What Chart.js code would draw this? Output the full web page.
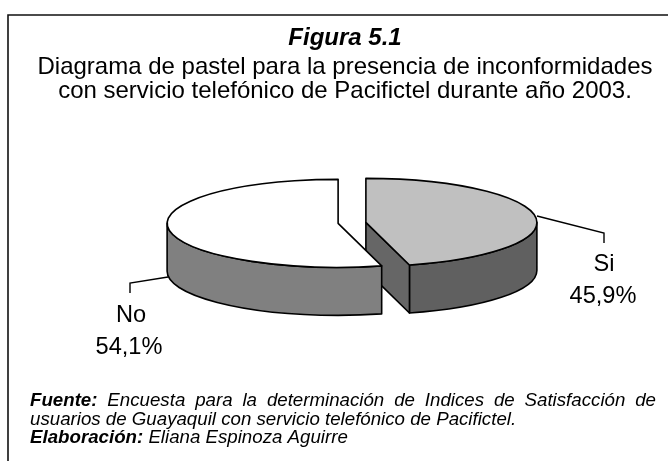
<!DOCTYPE html>
<html><head><meta charset="utf-8">
<style>html,body{margin:0;padding:0;background:#fff}canvas{display:block}</style>
<script src="https://cdn.jsdelivr.net/npm/chart.js@4"></script>
</head><body><canvas id="c" width="668" height="461"></canvas>
<script>
const categories = ['Si', 'No'];
const percentages = [45.9, 54.1];
const percentLabels = ['45,9%', '54,1%'];
const topColors = ['#c0c0c0', '#ffffff'];
const wallColors = ['#606060', '#808080'];
const faceColors = ['#666666', '#808080'];
const titleText = 'Figura 5.1';
const subtitleLines = ['Diagrama de pastel para la presencia de inconformidades', 'con servicio telefónico de Pacifictel durante año 2003.'];
const sourceLines = [
  [['Fuente:', true], ['Encuesta para la determinación de Indices de Satisfacción de', false]],
  [['usuarios de Guayaquil con servicio telefónico de Pacifictel.', false]],
  [['Elaboración:', true], ['Eliana Espinoza Aguirre', false]]
];
const FONT = '"Liberation Sans", Arial, sans-serif';
const K = 44 / 171, DEPTH = 48, LW = 1.6, EXPLODE = 14, PIE_SHIFT = 7;

function geom(a) {
  const p = a.getProps(['x', 'y', 'startAngle', 'endAngle', 'outerRadius'], true);
  const mid = (p.startAngle + p.endAngle) / 2;
  return { mid, x: p.x, y: p.y, cx: p.x + PIE_SHIFT + Math.cos(mid) * EXPLODE, cy: p.y + Math.sin(mid) * EXPLODE * K, r: p.outerRadius, s: p.startAngle, e: p.endAngle };
}
class Pie3DController extends Chart.PieController {
  draw() {
    const c = this.chart.ctx, arcs = this._cachedMeta.data;
    c.save();
    c.strokeStyle = '#000'; c.lineWidth = LW; c.lineJoin = 'round';
    arcs.forEach((a, i) => {
      const g = geom(a), rx = g.r, ry = g.r * K;
      const a0 = Math.max(g.s, 0), a1 = Math.min(g.e, Math.PI);
      if (a1 > a0) {
        c.beginPath();
        c.ellipse(g.cx, g.cy, rx, ry, 0, a0, a1);
        c.ellipse(g.cx, g.cy + DEPTH, rx, ry, 0, a1, a0, true);
        c.closePath();
        c.fillStyle = wallColors[i]; c.fill(); c.stroke();
      }
      if (Math.sin(g.e + Math.PI / 2) > 1e-6) {
        const tx = g.cx + rx * Math.cos(g.e), ty = g.cy + ry * Math.sin(g.e);
        c.beginPath();
        c.moveTo(g.cx, g.cy); c.lineTo(tx, ty); c.lineTo(tx, ty + DEPTH); c.lineTo(g.cx, g.cy + DEPTH);
        c.closePath();
        c.fillStyle = faceColors[i]; c.fill(); c.stroke();
      }
    });
    arcs.forEach(a => {
      const g = geom(a);
      c.save();
      c.translate(g.cx, g.cy); c.scale(1, K); c.translate(-g.x, -g.y);
      a.draw(c);
      c.restore();
    });
    arcs.forEach(a => {
      const g = geom(a);
      c.beginPath();
      c.moveTo(g.cx, g.cy);
      c.ellipse(g.cx, g.cy, g.r, g.r * K, 0, g.s, g.e);
      c.closePath();
      c.stroke();
    });
    c.restore();
  }
}
Pie3DController.id = 'pie3d';
Pie3DController.defaults = Chart.PieController.defaults;
Pie3DController.overrides = Chart.PieController.overrides;
Chart.register(Pie3DController);

const decor = {
  id: 'decor',
  beforeDraw(chart) {
    const c = chart.ctx;
    c.save();
    c.fillStyle = '#fff'; c.fillRect(0, 0, 668, 461);
    c.strokeStyle = '#111'; c.lineWidth = 1.6;
    c.beginPath(); c.moveTo(8, 461); c.lineTo(8, 15); c.lineTo(668, 15); c.stroke();
    c.restore();
  },
  afterDraw(chart) {
    const c = chart.ctx;
    c.save();
    c.strokeStyle = '#000'; c.lineWidth = 1.4;
    c.beginPath(); c.moveTo(537, 216); c.lineTo(604, 233); c.lineTo(604, 243); c.stroke();
    c.beginPath(); c.moveTo(168, 277); c.lineTo(130, 283); c.lineTo(130, 293); c.stroke();
    c.fillStyle = '#000'; c.textAlign = 'center'; c.textBaseline = 'alphabetic';
    c.font = '23.6px ' + FONT;
    c.fillText(categories[1], 131, 322);
    c.fillText(percentLabels[1], 129, 354);
    c.fillText(categories[0], 604, 271);
    c.save();
    c.beginPath(); c.rect(0, 0, 637, 461); c.clip();
    c.fillText(percentLabels[0], 603, 303);
    c.restore();
    c.textAlign = 'left';
    const fs = 18.7, ys = [406, 425, 443], left = 30, right = 656;
    const fnt = b => (b ? 'italic bold ' : 'italic ') + fs + 'px ' + FONT;
    sourceLines.forEach((runs, li) => {
      const words = [];
      runs.forEach(([t, b]) => t.split(' ').forEach(w => words.push([w, b])));
      const widths = words.map(([w, b]) => { c.font = fnt(b); return c.measureText(w).width; });
      c.font = fnt(false);
      let gap = c.measureText(' ').width;
      if (li === 0) gap = (right - left - widths.reduce((s, w) => s + w, 0)) / (words.length - 1);
      let x = left;
      words.forEach(([w, b], i) => {
        c.font = fnt(b);
        c.fillText(w, x, ys[li]);
        x += widths[i] + gap;
      });
    });
    c.restore();
  }
};
new Chart(document.getElementById('c'), {
  type: 'pie3d',
  data: {
    labels: categories,
    datasets: [{ data: percentages, backgroundColor: topColors, borderWidth: 0, radius: 171, clip: false }]
  },
  options: {
    responsive: false, animation: false, events: [],
    layout: { padding: { left: 22, right: 0, top: 0, bottom: 119 } },
    plugins: {
      legend: { display: false }, tooltip: { enabled: false },
      title: { display: true, text: titleText, color: '#000', font: { family: FONT, size: 24, style: 'italic', weight: 'bold', lineHeight: 1.2 }, padding: { top: 24, bottom: 0 } },
      subtitle: { display: true, text: subtitleLines, color: '#000', font: { family: FONT, size: 24, weight: 'normal', lineHeight: 1.02 }, padding: { top: 2, bottom: 0 } }
    }
  },
  plugins: [decor]
});
</script></body></html>
